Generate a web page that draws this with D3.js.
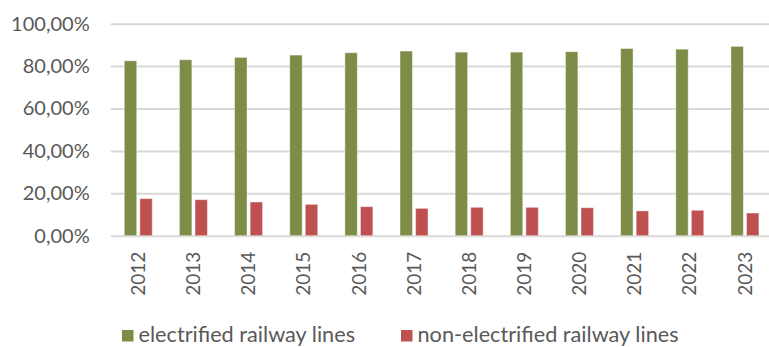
<!DOCTYPE html>
<html>
<head>
<meta charset="utf-8">
<script src="https://cdn.jsdelivr.net/npm/d3@7"></script>
<style>
  html, body { margin: 0; padding: 0; background: #ffffff; }
  svg { display: block; }
  text { font-family: Lato, "Open Sans", sans-serif; fill: #595959; }
</style>
</head>
<body>
<svg id="chart" width="769" height="347"></svg>
<script>
const years = ["2012","2013","2014","2015","2016","2017","2018","2019","2020","2021","2022","2023"];
const seriesNames = ["electrified railway lines", "non-electrified railway lines"];
const electrified = [0.825, 0.830, 0.841, 0.852, 0.863, 0.871, 0.866, 0.866, 0.868, 0.883, 0.880, 0.893];
const nonElectrified = [0.175, 0.170, 0.159, 0.148, 0.137, 0.129, 0.134, 0.134, 0.132, 0.117, 0.120, 0.107];
const yTicks = [0, 0.2, 0.4, 0.6, 0.8, 1.0];
const colors = ["#7d8c46", "#be5150"];

const svg = d3.select("#chart");
const plotLeft = 110.7, plotRight = 772.5, plotTop = 23.7, plotBottom = 235.7;

const x0 = d3.scaleBand().domain(years).range([plotLeft, plotRight]).paddingInner(0.492).paddingOuter(0.246);
const x1 = d3.scaleBand().domain(seriesNames).range([0, x0.bandwidth()]).paddingInner(0.2);
const y = d3.scaleLinear().domain([0, 1]).range([plotBottom, plotTop]);
const color = d3.scaleOrdinal().domain(seriesNames).range(colors);

const fmt = v => d3.format(".2f")(v * 100).replace(".", ",") + "%";

// gridlines
const yAxis = d3.axisLeft(y).tickValues(yTicks).tickSize(-(769 - plotLeft)).tickFormat(fmt).tickPadding(21);
const gy = svg.append("g").attr("transform", `translate(${plotLeft},0)`).call(yAxis);
gy.select(".domain").remove();
gy.selectAll(".tick line").attr("stroke", "#d9d9d9").attr("stroke-width", 2);
gy.selectAll(".tick text").attr("font-size", 20).attr("fill", "#595959")
  .attr("font-family", "Lato, 'Open Sans', sans-serif");

// bars
const data = years.map((yr, i) => ({ year: yr, values: [
  { key: seriesNames[0], value: electrified[i] },
  { key: seriesNames[1], value: nonElectrified[i] }
]}));

const groups = svg.append("g").selectAll("g").data(data).join("g")
  .attr("transform", d => `translate(${x0(d.year)},0)`);
groups.selectAll("rect").data(d => d.values).join("rect")
  .attr("x", d => x1(d.key))
  .attr("y", d => y(d.value))
  .attr("width", x1.bandwidth())
  .attr("height", d => y(0) - y(d.value))
  .attr("fill", d => color(d.key))
  .attr("stroke", "rgba(255,255,255,0.45)")
  .attr("stroke-width", 1);

// x axis
const xAxis = d3.axisBottom(x0).tickSize(0).tickPadding(0);
const gx = svg.append("g").attr("transform", `translate(0,${plotBottom})`).call(xAxis);
gx.select(".domain").remove();
gx.selectAll(".tick text")
  .attr("font-size", 19)
  .attr("font-family", "Lato, 'Open Sans', sans-serif")
  .attr("fill", "#595959")
  .attr("text-anchor", "end")
  .attr("transform", "translate(0,16) rotate(-90)")
  .attr("x", 0).attr("y", 0).attr("dy", "0.35em");

// legend
const legendX = [122, 401];
const legend = svg.append("g").selectAll("g").data(seriesNames).join("g")
  .attr("transform", (d, i) => `translate(${legendX[i]},330)`);
legend.append("rect").attr("width", 11.5).attr("height", 11.5).attr("fill", d => color(d));
legend.append("text").attr("x", 16.5).attr("y", 11.5)
  .attr("font-size", 21.7).attr("fill", "#595959").text(d => d);
</script>
</body>
</html>
